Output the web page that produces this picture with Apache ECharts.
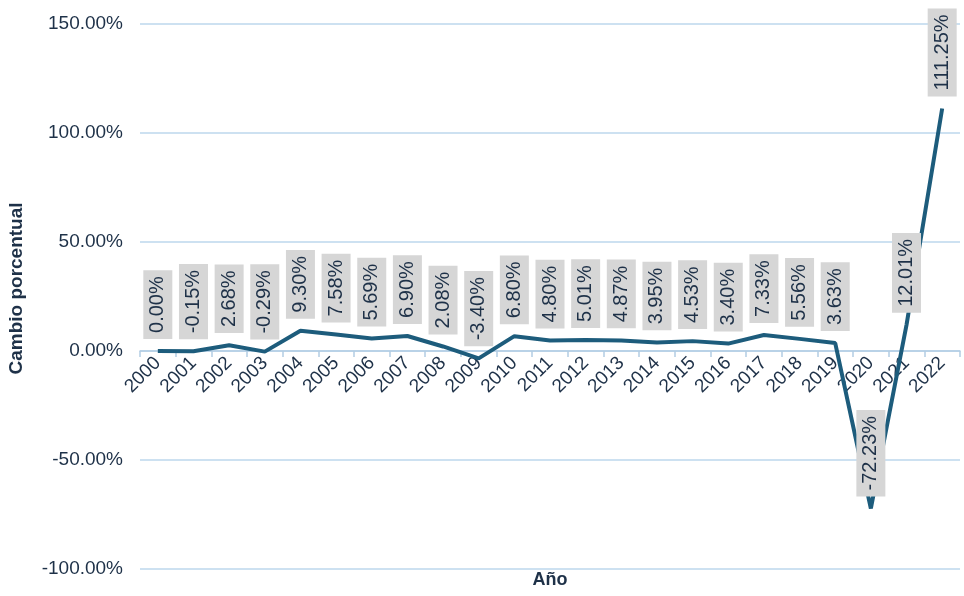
<!DOCTYPE html>
<html>
<head>
<meta charset="utf-8">
<script src="https://cdn.jsdelivr.net/npm/echarts@6/dist/echarts.min.js"></script>
<style>
html,body{margin:0;padding:0;background:#fff;}
#chart{width:964px;height:596px;}
</style>
</head>
<body>
<div id="chart"></div>
<script>
var years = ['2000','2001','2002','2003','2004','2005','2006','2007','2008','2009','2010','2011','2012','2013','2014','2015','2016','2017','2018','2019','2020','2021','2022'];
var cambio = [0.00,-0.15,2.68,-0.29,9.30,7.58,5.69,6.90,2.08,-3.40,6.80,4.80,5.01,4.87,3.95,4.53,3.40,7.33,5.56,3.63,-72.23,12.01,111.25];
var yTicks = {min:-100, max:150, interval:50};

var FONT = '"Liberation Sans", Arial, sans-serif';
var TEXT = '#1e3148';
var GRID = {left:140,right:4,top:24,bottom:27};
var plotH = 596 - GRID.top - GRID.bottom;
var zeroOffset = plotH * (0 - yTicks.min) / (yTicks.max - yTicks.min);
var centerX = GRID.left + (964 - GRID.left - GRID.right) / 2;

var chart = echarts.init(document.getElementById('chart'));
chart.setOption({
  animation:false,
  grid:{left:GRID.left,right:GRID.right,top:GRID.top,bottom:GRID.bottom,containLabel:false,outerBoundsMode:'none'},
  graphic:[{type:'text',x:centerX,y:571,style:{text:'Año',font:'bold 18px '+FONT,fill:TEXT,align:'center',verticalAlign:'top'}}],
  xAxis:{
    type:'category',
    data:years,
    boundaryGap:true,
    offset:-zeroOffset,
    axisLine:{onZero:false,lineStyle:{color:'#b3cde3',width:1.5}},
    axisTick:{show:true,length:6,lineStyle:{color:'#b3cde3',width:1.5}},
    axisLabel:{rotate:45,fontSize:19,color:TEXT,fontFamily:FONT,margin:9}
  },
  yAxis:{
    type:'value',
    min:yTicks.min,max:yTicks.max,interval:yTicks.interval,
    name:'Cambio porcentual',
    nameLocation:'middle',
    nameGap:114,
    nameTextStyle:{fontSize:19,fontWeight:'bold',color:TEXT,fontFamily:FONT,padding:[0,0,0,16]},
    axisLine:{show:false},
    axisTick:{show:false},
    splitLine:{lineStyle:{color:'#bdd7ec',width:1.5}},
    axisLabel:{fontSize:19,color:TEXT,fontFamily:FONT,margin:17,formatter:function(v){return v.toFixed(2)+'%';}}
  },
  series:[{
    type:'line',
    data:cambio,
    symbol:'circle',
    symbolSize:0.1,
    showSymbol:true,
    lineStyle:{color:'#1d5c7c',width:4},
    itemStyle:{color:'#1d5c7c'},
    label:{
      show:true,
      position:'top',
      distance:12,
      rotate:90,
      align:'left',
      verticalAlign:'middle',
      fontSize:20,
      lineHeight:21,
      fontFamily:FONT,
      color:TEXT,
      backgroundColor:'#d6d6d6',
      padding:[4,6],
      formatter:function(p){return p.value.toFixed(2)+'%';}
    }
  }]
});
</script>
</body>
</html>
